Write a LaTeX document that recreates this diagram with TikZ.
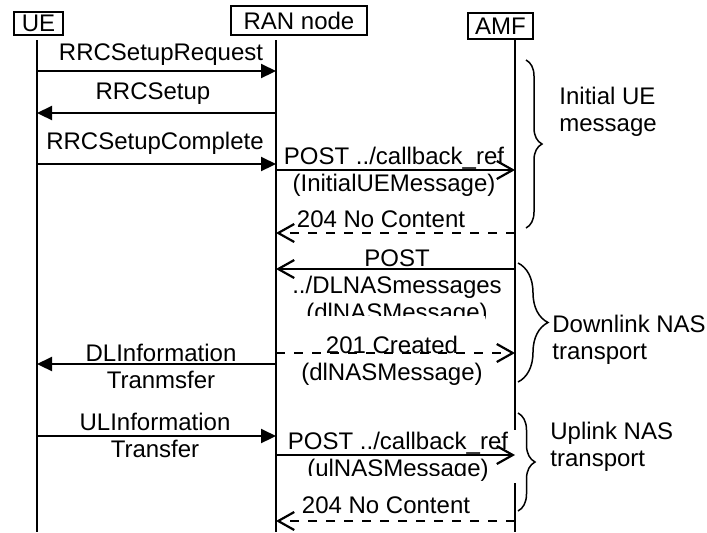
\documentclass[tikz,border=0pt]{standalone}
\usepackage{fontspec}
\setmainfont{Liberation Sans}
\usetikzlibrary{arrows.meta,decorations.pathreplacing}

\begin{document}
\begin{tikzpicture}[x=0.5pt, y=-0.5pt,
    font=\fontsize{12}{13.5}\selectfont,
    entity/.style={draw, line width=0.85pt, inner sep=0pt},
    lifeline/.style={line width=0.85pt},
    lbl/.style={fill=white, inner sep=1pt, align=center, anchor=base},
    sig/.style={line width=1.1pt, -{Triangle[length=7.5pt,width=7pt]}},
    req/.style={line width=1.1pt, -{Straight Barb[length=8pt,width=9pt]}},
    resp/.style={req, dash pattern=on 4.5pt off 4.5pt},
    grp/.style={line width=0.75pt, decorate, decoration={brace, amplitude=#1}},
    note/.style={align=left, anchor=base west, inner sep=0pt}
    ]
    \useasboundingbox (0,0) rectangle (707,532);

    \node[entity, minimum width=24.5pt, minimum height=11.5pt] (ue-box) at (38.5,23.5) {UE};
    \node[entity, minimum width=68pt, minimum height=14.5pt] (ran-box) at (299,20.5) {RAN node};
    \node[entity, minimum width=32.5pt, minimum height=13pt] (amf-box) at (500.5,26) {AMF};

    \coordinate (ue-top) at (37,40);
    \coordinate (ue-bot) at (37,532);
    \coordinate (ran-top) at (276,40);
    \coordinate (ran-bot) at (276,532);
    \coordinate (amf-top) at (515,39);
    \coordinate (amf-bot) at (515,532);
    \draw[lifeline] (ue-top) -- (ue-bot);
    \draw[lifeline] (ran-top) -- (ran-bot);
    \draw[lifeline] (amf-top) -- (amf-bot);

    \path (0,71) coordinate (m1) (0,113) coordinate (m2) (0,164) coordinate (m3)
      (0,170) coordinate (m4) (0,233) coordinate (m5) (0,269) coordinate (m6)
      (0,353) coordinate (m7) (0,364) coordinate (m8) (0,436) coordinate (m9)
      (0,455) coordinate (m10) (0,521) coordinate (m11);

    \node[lbl] (l1) at (161,60) {RRCSetupRequest};
    \node[lbl] (l2) at (153,99) {RRCSetup};
    \node[lbl] (l3) at (155,149) {RRCSetupComplete};
    \node[lbl] (l4) at (394,191) {POST ../callback\_ref\\(InitialUEMessage)};
    \node[lbl] (l5) at (381,227) {204 No Content};
    \node[lbl] (l6) at (397,320) {POST\\../DLNASmessages\\(dlNASMessage)};
    \node[lbl] (l7) at (392,380) {\rule{0pt}{17.5pt}201 Created\\(dlNASMessage)};
    \node[lbl] (l8) at (161,388) {DLInformation\\Tranmsfer};
    \node[lbl] (l9) at (155,457) {ULInformation\\Transfer};
    \node[lbl, minimum width=119pt] (l10) at (398,476) {POST ../callback\_ref\\(ulNASMessage)};
    \node[lbl] (l11) at (386,513) {\rule{0pt}{17.5pt}204 No Content};

    \draw[sig] (ue-top |- m1) -- (ran-top |- m1);
    \draw[sig] (ran-top |- m2) -- (ue-top |- m2);
    \draw[sig] (ue-top |- m3) -- (ran-top |- m3);
    \draw[req] (ran-top |- m4) -- (amf-top |- m4);
    \draw[resp] (amf-top |- m5) -- (ran-top |- m5);
    \draw[req] (amf-top |- m6) -- (ran-top |- m6);
    \draw[resp] (ran-top |- m7) -- (amf-top |- m7);
    \draw[sig] (ran-top |- m8) -- (ue-top |- m8);
    \draw[sig] (ue-top |- m9) -- (ran-top |- m9);
    \draw[req] (ran-top |- m10) -- (amf-top |- m10);
    \draw[resp] (amf-top |- m11) -- (ran-top |- m11);

    \draw[grp=8pt] (526,60) coordinate (b1-top) -- (526,228) coordinate (b1-bot);
    \draw[grp=15pt] (518,263) coordinate (b2-top) -- (518,382) coordinate (b2-bot);
    \draw[grp=8.5pt] (518,413) coordinate (b3-top) -- (518,511) coordinate (b3-bot);

    \node[note] (n1) at (559,131) {Initial UE\\message};
    \node[note] (n2) at (552,359) {Downlink NAS\\transport};
    \node[note] (n3) at (550,466) {Uplink NAS\\transport};
\end{tikzpicture}
\end{document}
